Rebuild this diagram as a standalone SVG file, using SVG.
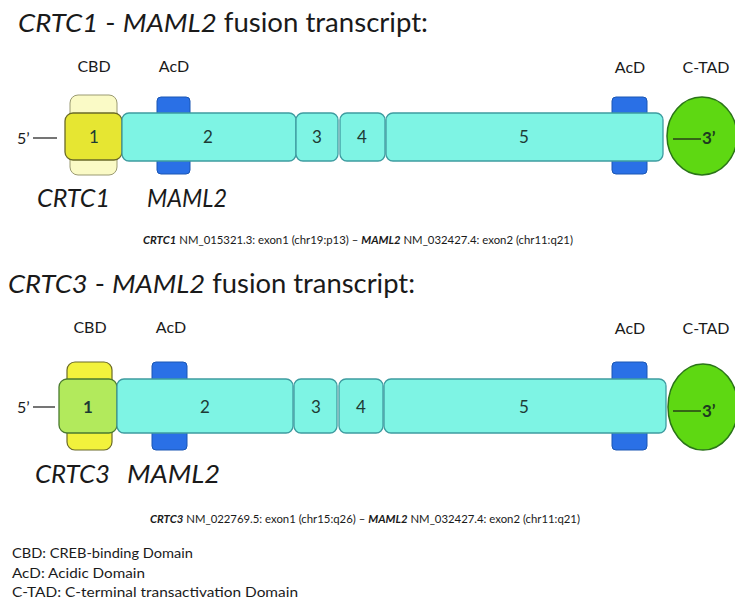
<svg xmlns="http://www.w3.org/2000/svg" width="735" height="603" viewBox="0 0 735 603">
<style>
text{font-family:Lato,"Open Sans","Liberation Sans",sans-serif;fill:#1a1a1a}
.title{font-size:26px}
.it{font-style:italic}
.lbl{font-size:16px;text-anchor:middle}
.num{font-size:17px;text-anchor:middle;fill:#1d3a34}
.gene{font-size:25px;font-style:italic}
.sub{font-size:11px}
.b{font-weight:bold;font-style:italic}
.leg{font-size:13px}
.exon{fill:#7ef4e4;stroke:#3e9ca0;stroke-width:1.3}
.acd{fill:#2a70e6;stroke:#1a56b4;stroke-width:1}
.ctad{fill:#5ed812;stroke:#2a7418;stroke-width:1.5}
.ln{stroke:#1a1a1a;stroke-width:1.2}
</style>

<!-- ===== Top: CRTC1 - MAML2 ===== -->
<g id="title1"><text class="title" x="18" y="32" textLength="410" lengthAdjust="spacingAndGlyphs"><tspan class="it">CRTC1</tspan> - <tspan class="it">MAML2</tspan> fusion transcript:</text></g>
<g id="labels1">
<text class="lbl" x="94" y="72">CBD</text>
<text class="lbl" x="174" y="72">AcD</text>
<text class="lbl" x="630" y="73">AcD</text>
<text class="lbl" x="706" y="73">C-TAD</text>
</g>
<g id="cbd1"><rect x="70" y="95" width="47" height="80" rx="8" fill="#fafac6" stroke="#9a9a72" stroke-width="1"/></g>
<g id="acd1a"><rect class="acd" x="157" y="97" width="33" height="77" rx="4"/></g>
<g id="acd1b"><rect class="acd" x="612" y="97" width="35" height="77" rx="4"/></g>
<g id="exon1-1"><rect x="65" y="113" width="57" height="47" rx="8" fill="#e6e632" stroke="#6a6a28" stroke-width="1.3"/><text class="num" x="94" y="143">1</text></g>
<g id="exon1-2"><rect class="exon" x="122" y="113" width="174" height="48" rx="7"/><text class="num" x="208" y="143">2</text></g>
<g id="exon1-3"><rect class="exon" x="296" y="113" width="42" height="48" rx="7"/><text class="num" x="317" y="143">3</text></g>
<g id="exon1-4"><rect class="exon" x="340" y="113" width="45" height="48" rx="7"/><text class="num" x="362" y="143">4</text></g>
<g id="exon1-5"><rect class="exon" x="386" y="113" width="277" height="48" rx="7"/><text class="num" x="524" y="143">5</text></g>
<g id="ctad1"><ellipse class="ctad" cx="702" cy="136" rx="35" ry="39"/><text x="702" y="144" style="font-size:17px;font-weight:bold;fill:#1d3a20">3’</text></g>
<g id="five1"><text x="17" y="144" style="font-size:16px">5’</text></g>
<g id="genes1"><text class="gene" x="37" y="207" textLength="73" lengthAdjust="spacingAndGlyphs">CRTC1</text><text class="gene" x="147" y="207" textLength="80" lengthAdjust="spacingAndGlyphs">MAML2</text></g>
<g id="sub1"><text class="sub" x="143" y="244" textLength="430" lengthAdjust="spacingAndGlyphs"><tspan class="b">CRTC1</tspan> NM_015321.3: exon1 (chr19:p13) – <tspan class="b">MAML2</tspan> NM_032427.4: exon2 (chr11:q21)</text></g>

<!-- ===== Bottom: CRTC3 - MAML2 ===== -->
<g id="title2"><text class="title" x="8" y="293" textLength="407" lengthAdjust="spacingAndGlyphs"><tspan class="it">CRTC3</tspan> - <tspan class="it">MAML2</tspan> fusion transcript:</text></g>
<g id="labels2">
<text class="lbl" x="90" y="333">CBD</text>
<text class="lbl" x="171" y="333">AcD</text>
<text class="lbl" x="630" y="334">AcD</text>
<text class="lbl" x="706" y="334">C-TAD</text>
</g>
<g id="cbd2"><rect x="67" y="362" width="45" height="88" rx="8" fill="#f2f23c" stroke="#6a6a28" stroke-width="1.2"/></g>
<g id="acd2a"><rect class="acd" x="152" y="362" width="35" height="88" rx="4"/></g>
<g id="acd2b"><rect class="acd" x="612" y="362" width="35" height="88" rx="4"/></g>
<g id="exon2-1"><rect x="59" y="379" width="58" height="54" rx="8" fill="#b2ea5c" stroke="#4a7a30" stroke-width="1.3"/><text class="num" x="88" y="413" style="font-weight:bold">1</text></g>
<g id="exon2-2"><rect class="exon" x="117" y="379" width="176" height="54" rx="7"/><text class="num" x="205" y="413">2</text></g>
<g id="exon2-3"><rect class="exon" x="294" y="379" width="43" height="54" rx="7"/><text class="num" x="316" y="413">3</text></g>
<g id="exon2-4"><rect class="exon" x="339" y="379" width="44" height="54" rx="7"/><text class="num" x="361" y="413">4</text></g>
<g id="exon2-5"><rect class="exon" x="384" y="379" width="282" height="54" rx="7"/><text class="num" x="524" y="413">5</text></g>
<g id="ctad2"><ellipse class="ctad" cx="703" cy="407" rx="35" ry="43"/><text x="702" y="417" style="font-size:17px;font-weight:bold;fill:#1d3a20">3’</text></g>
<g id="five2"><text x="17" y="413" style="font-size:16px">5’</text></g>
<g id="genes2"><text class="gene" x="35" y="483" textLength="75" lengthAdjust="spacingAndGlyphs">CRTC3</text><text class="gene" x="127" y="483" textLength="93" lengthAdjust="spacingAndGlyphs">MAML2</text></g>
<g id="sub2"><text class="sub" x="150" y="523" textLength="430" lengthAdjust="spacingAndGlyphs"><tspan class="b">CRTC3</tspan> NM_022769.5: exon1 (chr15:q26) – <tspan class="b">MAML2</tspan> NM_032427.4: exon2 (chr11:q21)</text></g>

<!-- connectors -->
<g id="connectors">
<line class="ln" x1="33" y1="138" x2="57" y2="138"/>
<line class="ln" x1="673" y1="139" x2="701" y2="139"/>
<line class="ln" x1="33" y1="407" x2="55" y2="407"/>
<line class="ln" x1="673" y1="411" x2="701" y2="411"/>
</g>

<!-- legend -->
<g id="legend">
<text class="leg" x="12" y="558" textLength="181" lengthAdjust="spacingAndGlyphs">CBD: CREB-binding Domain</text>
<text class="leg" x="12" y="578" textLength="133" lengthAdjust="spacingAndGlyphs">AcD: Acidic Domain</text>
<text class="leg" x="12" y="597" textLength="286" lengthAdjust="spacingAndGlyphs">C-TAD: C-terminal transactivation Domain</text>
</g>
</svg>
